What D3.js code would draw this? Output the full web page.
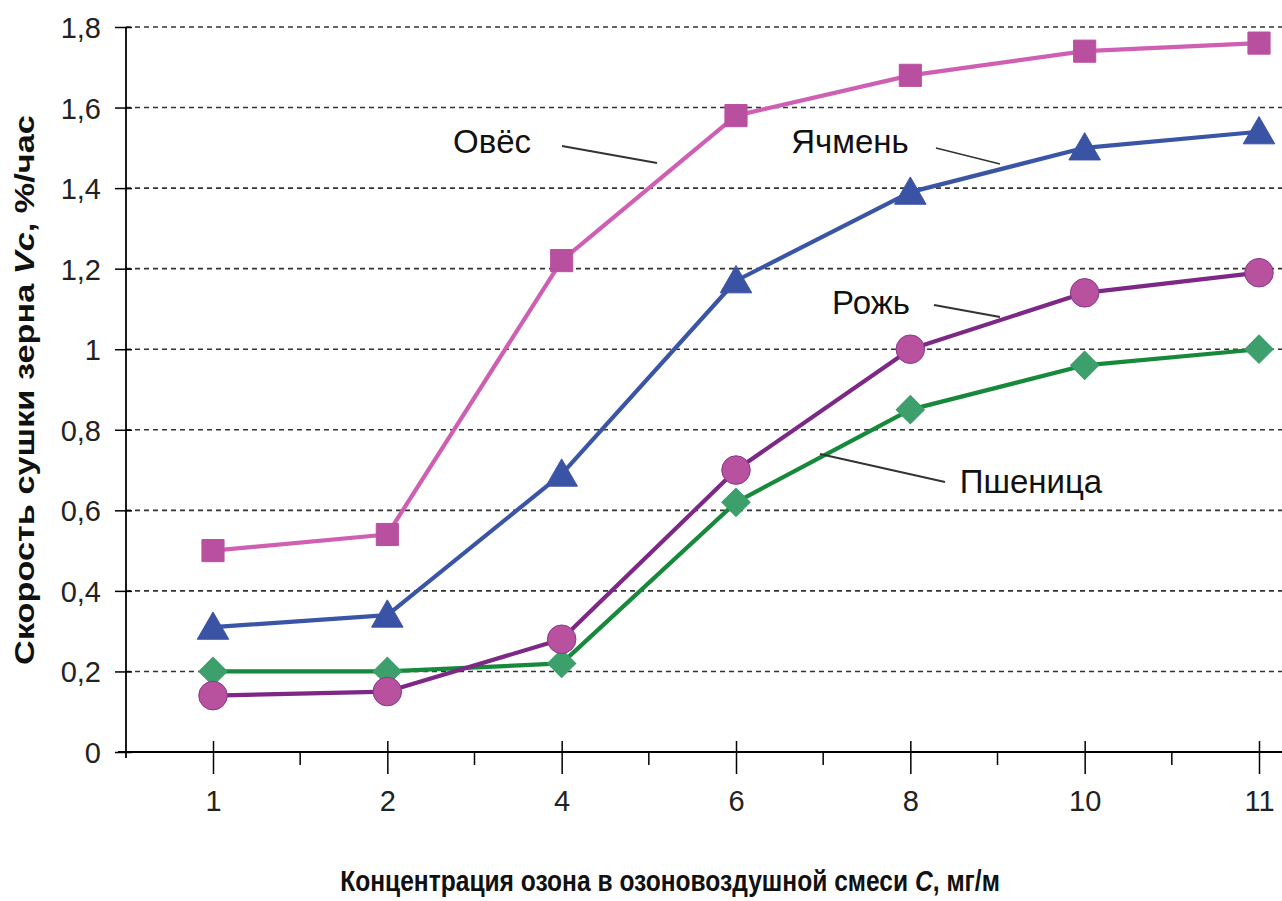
<!DOCTYPE html>
<html><head><meta charset="utf-8">
<script src="https://cdn.jsdelivr.net/npm/d3@7"></script>
<style>body{margin:0;background:#fff}svg{display:block}</style>
</head><body>
<svg id="c" width="1282" height="901"></svg>
<script>
const categories = ["1","2","4","6","8","10","11"];
const oats   = [0.50, 0.54, 1.22, 1.58, 1.68, 1.74, 1.76];
const barley = [0.31, 0.34, 0.69, 1.17, 1.39, 1.50, 1.54];
const rye    = [0.14, 0.15, 0.28, 0.70, 1.00, 1.14, 1.19];
const wheat  = [0.20, 0.20, 0.22, 0.62, 0.85, 0.96, 1.00];
const yTicks = [0, 0.2, 0.4, 0.6, 0.8, 1.0, 1.2, 1.4, 1.6, 1.8];
const yTickLabels = ["0","0,2","0,4","0,6","0,8","1","1,2","1,4","1,6","1,8"];

const svg = d3.select("#c");
const W = 1282, H = 901;
const x0 = 126, yBottom = 752, yTop = 27;
const x = d3.scalePoint().domain(categories).range([213, 1259]);
const step = x.step();
const y = d3.scaleLinear().domain([0, 1.8]).range([yBottom, yTop]);
const font = "'Liberation Sans', Arial, sans-serif";

// gridlines
svg.append("g").selectAll("line").data(yTicks.filter(d => d > 0)).join("line")
  .attr("x1", x0).attr("x2", W).attr("y1", d => y(d)).attr("y2", d => y(d))
  .attr("stroke", "#333").attr("stroke-width", 1.6).attr("stroke-dasharray", "5,4");

// y axis
const yAxis = d3.axisLeft(y).tickValues(yTicks).tickFormat((d, i) => yTickLabels[i]).tickSize(11).tickPadding(14);
const gy = svg.append("g").attr("transform", `translate(${x0},0)`).call(yAxis);
gy.select(".domain").remove();
gy.selectAll(".tick line").attr("x2", -11).attr("x1", 6).attr("stroke", "#000").attr("stroke-width", 1.5);
gy.selectAll(".tick text").attr("font-family", font).attr("font-size", 29).attr("fill", "#222").attr("dy", "0.36em");
svg.append("line").attr("x1", x0).attr("x2", x0).attr("y1", yTop).attr("y2", yBottom + 6)
  .attr("stroke", "#000").attr("stroke-width", 1.8);

// x axis
const xAxis = d3.axisBottom(x).tickSize(22).tickPadding(16);
const gx = svg.append("g").attr("transform", `translate(0,${yBottom})`).call(xAxis);
gx.select(".domain").remove();
gx.selectAll(".tick line").attr("y1", -11).attr("y2", 22).attr("stroke", "#000").attr("stroke-width", 1.5);
gx.selectAll(".tick text").attr("font-family", font).attr("font-size", 29).attr("fill", "#222").attr("dy", "0.71em");
// minor ticks between categories
const minor = categories.slice(0, -1).map(c => x(c) + step / 2);
svg.append("g").selectAll("line").data(minor).join("line")
  .attr("x1", d => d).attr("x2", d => d).attr("y1", yBottom).attr("y2", yBottom + 13)
  .attr("stroke", "#000").attr("stroke-width", 1.5);
svg.append("line").attr("x1", x0 - 8).attr("x2", W).attr("y1", yBottom).attr("y2", yBottom)
  .attr("stroke", "#000").attr("stroke-width", 1.8);

// series
const series = [
  {name: "Овёс", vals: oats, line: "#cf5fb2", fill: "#b9509f", stroke: "#b9509f", sym: d3.symbolSquare, size: 490, rot: 0, dy: 0},
  {name: "Ячмень", vals: barley, line: "#3a55a6", fill: "#3a53a4", stroke: "#3a53a4", sym: d3.symbolTriangle, size: 430, rot: 0, dy: 3},
  {name: "Пшеница", vals: wheat, line: "#17893b", fill: "#3d9f6b", stroke: "#3d9f6b", sym: d3.symbolSquare, size: 400, rot: 45, dy: 0},
  {name: "Рожь", vals: rye, line: "#7d2886", fill: "#b8529e", stroke: "#8a3590", sym: d3.symbolCircle, size: 640, rot: 0, dy: 0}
];
const line = d3.line().x((d, i) => x(categories[i])).y(d => y(d));
series.forEach(s => {
  svg.append("path").datum(s.vals).attr("d", line).attr("fill", "none")
    .attr("stroke", s.line).attr("stroke-width", 4.2).attr("stroke-linejoin", "round");
});
series.forEach(s => {
  svg.append("g").selectAll("path").data(s.vals).join("path")
    .attr("transform", (d, i) => `translate(${x(categories[i])},${y(d) + s.dy}) rotate(${s.rot})`)
    .attr("d", d3.symbol().type(s.sym).size(s.size))
    .attr("fill", s.fill).attr("stroke", s.stroke).attr("stroke-width", 1);
});

// labels with leader lines
const labels = [
  {t: "Овёс", tx: 492, ty: 153, lx1: 562, ly1: 146, lx2: 657, ly2: 163},
  {t: "Ячмень", tx: 850, ty: 153, lx1: 936, ly1: 148, lx2: 1000, ly2: 164},
  {t: "Рожь", tx: 871, ty: 314, lx1: 934, ly1: 305, lx2: 1000, ly2: 317},
  {t: "Пшеница", tx: 1031, ty: 493, lx1: 945, ly1: 482, lx2: 820, ly2: 454}
];
labels.forEach(l => {
  svg.append("line").attr("x1", l.lx1).attr("y1", l.ly1).attr("x2", l.lx2).attr("y2", l.ly2)
    .attr("stroke", "#333").attr("stroke-width", 1.8);
  svg.append("text").attr("x", l.tx).attr("y", l.ty).attr("text-anchor", "middle")
    .attr("font-family", font).attr("font-size", 33).attr("fill", "#111").text(l.t);
});

// axis titles
const ytG = svg.append("g").attr("transform", "translate(34,390) rotate(-90)");
const yt = ytG.append("text").attr("text-anchor", "middle").attr("font-family", font).attr("font-weight", "bold")
  .attr("font-size", 28).attr("fill", "#111");
yt.append("tspan").text("Скорость сушки зерна ");
yt.append("tspan").attr("font-style", "italic").text("Vc");
yt.append("tspan").text(", %/час");
const ytLen = yt.node().getComputedTextLength();
yt.attr("transform", `scale(${550 / ytLen},1)`);

const xtG = svg.append("g").attr("transform", "translate(670,891)");
const xt = xtG.append("text").attr("text-anchor", "middle").attr("font-family", font)
  .attr("font-weight", "bold").attr("font-size", 29).attr("fill", "#111");
xt.append("tspan").text("Концентрация озона в озоновоздушной смеси ");
xt.append("tspan").attr("font-style", "italic").text("C");
xt.append("tspan").text(", мг/м");
const xtLen = xt.node().getComputedTextLength();
xt.attr("transform", `scale(${660 / xtLen},1)`);
</script>
</body></html>
